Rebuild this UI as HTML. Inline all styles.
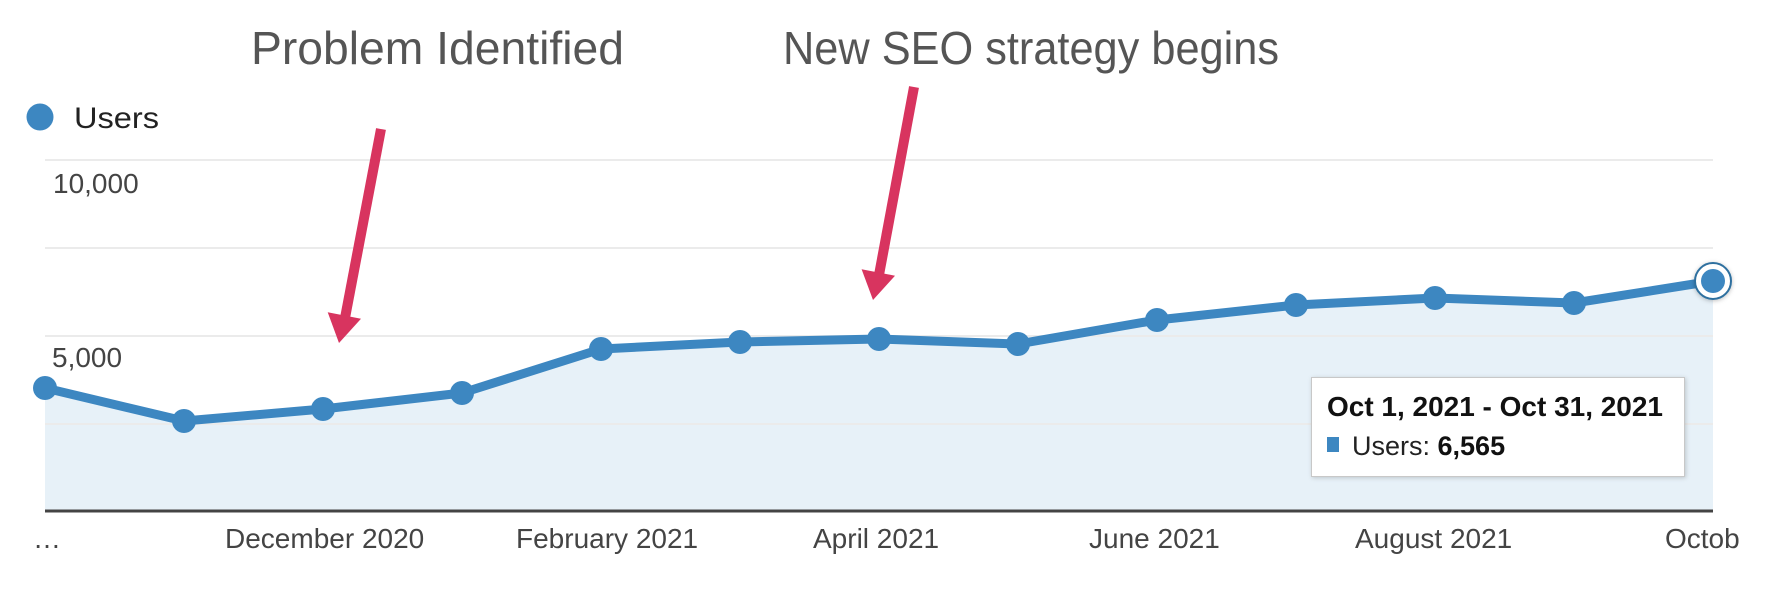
<!DOCTYPE html>
<html>
<head>
<meta charset="utf-8">
<style>
  html, body { margin:0; padding:0; background:#fff; }
  body { width:1766px; height:594px; overflow:hidden; }
  svg { display:block; font-family:"Liberation Sans", Arial, sans-serif; }
</style>
</head>
<body>
<svg width="1766" height="594" viewBox="0 0 1766 594" xmlns="http://www.w3.org/2000/svg">
  <defs>
    <clipPath id="lblclip"><rect x="0" y="500" width="1740" height="94"/></clipPath>
    <filter id="sh" x="-10%" y="-20%" width="120%" height="140%">
      <feDropShadow dx="1" dy="1" stdDeviation="2" flood-color="#000" flood-opacity="0.18"/>
    </filter>
    <filter id="sh2" x="-50%" y="-50%" width="200%" height="200%">
      <feDropShadow dx="0" dy="1" stdDeviation="2" flood-color="#000" flood-opacity="0.25"/>
    </filter>
  </defs>

  <!-- Annotation titles -->
  <text x="251" y="64" font-size="46" fill="#555" textLength="373" lengthAdjust="spacingAndGlyphs">Problem Identified</text>
  <text x="783" y="64" font-size="46" fill="#555" textLength="496" lengthAdjust="spacingAndGlyphs">New SEO strategy begins</text>

  <!-- Legend -->
  <circle cx="40" cy="117" r="13.5" fill="#3d87c1"/>
  <text x="74" y="128" font-size="30" fill="#222" textLength="85" lengthAdjust="spacingAndGlyphs">Users</text>

  <!-- Area fill -->
  <polygon fill="#e7f1f8" points="45,510 45,388 184,421 323,409 462,393 601,349 740,342 879,339 1018,344 1157,320 1296,305 1435,298 1574,303 1713,281 1713,510"/>

  <!-- Gridlines -->
  <g stroke="#ebebeb" stroke-width="2">
    <line x1="45" y1="160" x2="1713" y2="160"/>
    <line x1="45" y1="248" x2="1713" y2="248"/>
    <line x1="45" y1="336" x2="1713" y2="336"/>
    <line x1="45" y1="424" x2="1713" y2="424"/>
  </g>

  <!-- Y labels -->
  <text x="53" y="193" font-size="28" fill="#444">10,000</text>
  <text x="52" y="367" font-size="28" fill="#444">5,000</text>

  <!-- Axis -->
  <line x1="45" y1="511" x2="1713" y2="511" stroke="#444" stroke-width="3"/>

  <!-- Series line -->
  <polyline fill="none" stroke="#3d87c1" stroke-width="9" stroke-linejoin="round" points="45,388 184,421 323,409 462,393 601,349 740,342 879,339 1018,344 1157,320 1296,305 1435,298 1574,303 1713,281"/>
  <g fill="#3d87c1">
    <circle cx="45" cy="388" r="12"/>
    <circle cx="184" cy="421" r="12"/>
    <circle cx="323" cy="409" r="12"/>
    <circle cx="462" cy="393" r="12"/>
    <circle cx="601" cy="349" r="12"/>
    <circle cx="740" cy="342" r="12"/>
    <circle cx="879" cy="339" r="12"/>
    <circle cx="1018" cy="344" r="12"/>
    <circle cx="1157" cy="320" r="12"/>
    <circle cx="1296" cy="305" r="12"/>
    <circle cx="1435" cy="298" r="12"/>
    <circle cx="1574" cy="303" r="12"/>
  </g>
  <circle cx="1713" cy="281" r="18" fill="#fff" stroke="#2f6f9f" stroke-width="2" filter="url(#sh2)"/>
  <circle cx="1713" cy="281" r="12" fill="#3d87c1"/>

  <!-- X labels -->
  <g font-size="28" fill="#444" clip-path="url(#lblclip)">
    <text x="33" y="548">…</text>
    <text x="225" y="548">December 2020</text>
    <text x="516" y="548">February 2021</text>
    <text x="813" y="548">April 2021</text>
    <text x="1089" y="548">June 2021</text>
    <text x="1355" y="548">August 2021</text>
    <text x="1665" y="548">October 2021</text>
  </g>

  <!-- Arrows -->
  <g fill="#d8345f" stroke="none">
    <line x1="381" y1="129" x2="345" y2="318" stroke="#d8345f" stroke-width="10"/>
    <polygon points="339,343 361,318.8 327.7,312.2"/>
    <line x1="914" y1="87" x2="879" y2="275" stroke="#d8345f" stroke-width="10"/>
    <polygon points="873,300 895,275.7 861.6,269.3"/>
  </g>

  <!-- Tooltip -->
  <rect x="1311.5" y="377.5" width="373" height="99" fill="#fff" stroke="#c8c8c8" stroke-width="1" filter="url(#sh)"/>
  <text x="1327" y="416" font-size="28" font-weight="bold" fill="#111" textLength="336" lengthAdjust="spacingAndGlyphs">Oct 1, 2021 - Oct 31, 2021</text>
  <rect x="1327" y="437" width="12" height="15" fill="#3d87c1"/>
  <text x="1352" y="455" font-size="27" fill="#222">Users: <tspan font-weight="bold" fill="#111">6,565</tspan></text>
</svg>
</body>
</html>
